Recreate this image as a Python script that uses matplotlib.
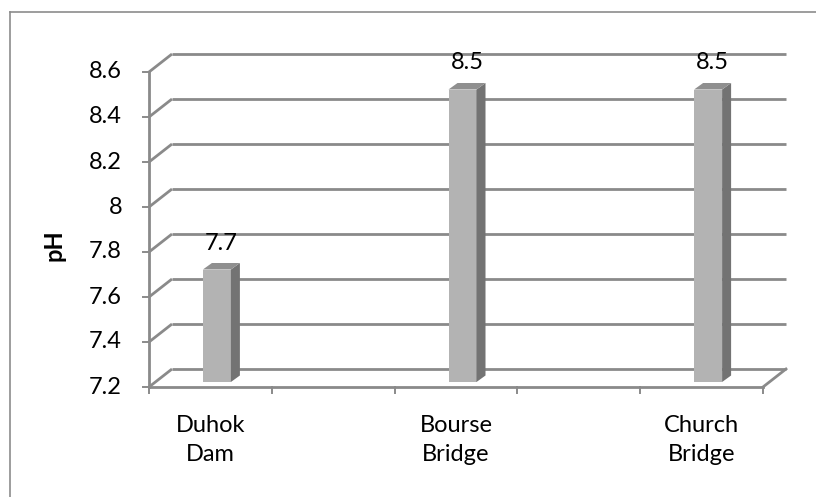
import matplotlib
matplotlib.use("Agg")
import matplotlib.pyplot as plt
from matplotlib.patches import Polygon
from matplotlib.lines import Line2D
import numpy as np

# ---- data ----
categories = ["Duhok\nDam", "", "Bourse\nBridge", "", "Church\nBridge"]
values = [7.7, np.nan, 8.5, np.nan, 8.5]
y_ticks = [7.2, 7.4, 7.6, 7.8, 8.0, 8.2, 8.4, 8.6]
y_tick_labels = ["7.2", "7.4", "7.6", "7.8", "8", "8.2", "8.4", "8.6"]
data_labels = ["7.7", "", "8.5", "", "8.5"]
y_label = "pH"

plt.rcParams['font.family'] = ['Lato', 'DejaVu Sans']
FS = 17

W, H = 816, 497
fig = plt.figure(figsize=(W / 100, H / 100), dpi=100)

# front plot rectangle in pixels
L, R, T, B = 149, 763, 72, 387
ax = fig.add_axes([L / W, 1 - B / H, (R - L) / W, (B - T) / H])
n = len(categories)
ymin, ymax = y_ticks[0], y_ticks[-1]
ax.set_xlim(0, n)
ax.set_ylim(ymin, ymax)
ax.axis('off')

px_x = n / (R - L)          # data units per pixel (x)
px_y = (ymax - ymin) / (B - T)  # data units per pixel (y)

grid_c = '#8a8a8a'
lw = 2.0
dxw, dyw = 23 * px_x, 18 * px_y   # wall depth

# gridlines: side wall + back wall
for v in y_ticks:
    ax.add_line(Line2D([0, dxw], [v, v + dyw], color=grid_c, lw=lw, clip_on=False, zorder=1,
                       solid_capstyle='butt'))
    ax.add_line(Line2D([dxw, n + dxw], [v + dyw, v + dyw], color=grid_c, lw=lw, clip_on=False,
                       zorder=1, solid_capstyle='butt'))
# front vertical axis
ax.add_line(Line2D([0, 0], [ymin, ymax], color=grid_c, lw=lw, clip_on=False, zorder=3))
# floor front edge and right edge
ax.add_line(Line2D([0, n], [ymin, ymin], color=grid_c, lw=lw, clip_on=False, zorder=3))
ax.add_line(Line2D([n, n + dxw], [ymin, ymin + dyw], color=grid_c, lw=lw, clip_on=False, zorder=3))
# y ticks
for v, lab in zip(y_ticks, y_tick_labels):
    ax.add_line(Line2D([-6 * px_x, 0], [v, v], color=grid_c, lw=1.4, clip_on=False, zorder=3))
    ax.text(-27 * px_x, v, lab, ha='right', va='center', fontsize=FS, color='black')
# x ticks
for i in range(n + 1):
    ax.add_line(Line2D([i, i], [ymin, ymin - 6 * px_y], color=grid_c, lw=1.4, clip_on=False, zorder=3))

# bars
off_x, off_y = 6.5 * px_x, 5 * px_y
half_w = 14 * px_x
sdx, sdy = 9 * px_x, 6.5 * px_y
front_c, side_c, top_c = '#b3b3b3', '#737373', '#8f8f8f'
for i, (v, lab) in enumerate(zip(values, data_labels)):
    if np.isnan(v):
        continue
    c = i + 0.5 + off_x
    x0, x1 = c - half_w, c + half_w
    y0, y1 = ymin + off_y, v + off_y
    ax.add_patch(Polygon([(x0, y0), (x1, y0), (x1, y1), (x0, y1)], closed=True,
                         facecolor=front_c, edgecolor='none', clip_on=False, zorder=4))
    ax.add_patch(Polygon([(x1, y0), (x1 + sdx, y0 + sdy), (x1 + sdx, y1 + sdy), (x1, y1)],
                         closed=True, facecolor=side_c, edgecolor='none', clip_on=False, zorder=4))
    ax.add_patch(Polygon([(x0, y1), (x1, y1), (x1 + sdx, y1 + sdy), (x0 + sdx, y1 + sdy)],
                         closed=True, facecolor=top_c, edgecolor='none', clip_on=False, zorder=4))
    ax.text(c + sdx / 2, v + (5.5 + 6.5 + 19.5) * px_y, lab, ha='center', va='center',
            fontsize=FS, color='black', zorder=5)

# category labels
for i, lab in enumerate(categories):
    if lab:
        ax.text(i + 0.5, ymin - 53 * px_y, lab, ha='center', va='center', fontsize=FS,
                linespacing=1.5, color='black')

# axis title
fig.text(54 / W, 1 - 245 / H, y_label, rotation=90, ha='center', va='center',
         fontsize=FS, fontweight='bold')

# chart border (left and top visible)
fig.add_artist(Line2D([10 / W, 10 / W], [0, 1 - 12 / H], transform=fig.transFigure,
                      color='#8c8c8c', lw=1.2))
fig.add_artist(Line2D([10 / W, 1], [1 - 12 / H, 1 - 12 / H], transform=fig.transFigure,
                      color='#8c8c8c', lw=1.2))

fig.savefig('out.png', dpi=100, facecolor='white')
